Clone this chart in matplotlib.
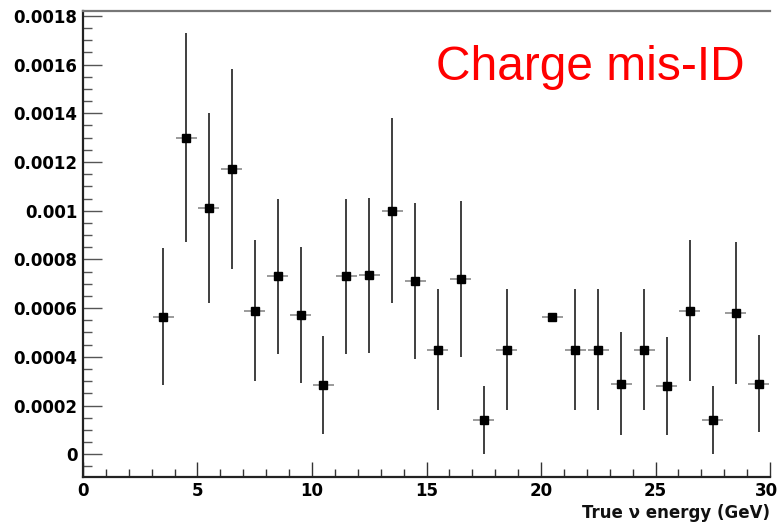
import numpy as np
import matplotlib.pyplot as plt
import matplotlib.transforms as mtransforms
from matplotlib.ticker import MultipleLocator, FuncFormatter

# charge mis-identification rate per 1 GeV bin of true neutrino energy
energy = [3.5, 4.5, 5.5, 6.5, 7.5, 8.5, 9.5, 10.5, 11.5, 12.5, 13.5, 14.5, 15.5,
          16.5, 17.5, 18.5, 20.5, 21.5, 22.5, 23.5, 24.5, 25.5, 26.5, 27.5, 28.5, 29.5]
misid = [0.000565, 0.00130, 0.00101, 0.00117, 0.00059, 0.00073, 0.000572, 0.000285,
         0.00073, 0.000734, 0.00100, 0.00071, 0.00043, 0.00072, 0.00014, 0.00043,
         0.000565, 0.00043, 0.00043, 0.00029, 0.00043, 0.00028, 0.00059, 0.00014,
         0.00058, 0.00029]
misid_err = [0.00028, 0.00043, 0.00039, 0.00041, 0.00029, 0.00032, 0.00028, 0.00020,
             0.00032, 0.00032, 0.00038, 0.00032, 0.00025, 0.00032, 0.00014, 0.00025,
             0.0, 0.00025, 0.00025, 0.00021, 0.00025, 0.00020, 0.00029, 0.00014,
             0.00029, 0.00020]
bin_half = 0.46
x_max = 30

plt.rcParams['font.family'] = 'DejaVu Sans'
plt.rcParams['font.weight'] = 'bold'
plt.rcParams['font.size'] = 12

fig = plt.figure(figsize=(7.8, 5.28), dpi=100)
ax = fig.add_axes([0.1064, 0.0972, 0.8808, 0.882])

# horizontal bin bars, vertical errors, then the square markers on top
ax.errorbar(energy, misid, xerr=bin_half, fmt='none', ecolor='#8a8a8a', elinewidth=1.2, capsize=0)
ax.errorbar(energy, misid, yerr=misid_err, fmt='none', ecolor='#303030', elinewidth=1.3, capsize=0)
ax.plot(energy, misid, 's', color='black', markersize=6)

ax.set_xlim(0, x_max)
ax.set_ylim(-0.000092, 0.00182)

ax.xaxis.set_major_locator(MultipleLocator(5))
ax.xaxis.set_minor_locator(MultipleLocator(1))
ax.yaxis.set_major_locator(MultipleLocator(0.0002))
ax.yaxis.set_minor_locator(MultipleLocator(0.00005))
ax.yaxis.set_major_formatter(FuncFormatter(lambda v, p: '0' if abs(v) < 1e-12 else f'{v:g}'))
# the last x label is drawn separately so it stays inside the figure
ax.xaxis.set_major_formatter(FuncFormatter(lambda v, p: '' if v >= x_max - 1e-9 else f'{v:g}'))

ax.tick_params(axis='x', which='major', direction='in', length=11, width=1.0, color='#333333', pad=4)
ax.tick_params(axis='x', which='minor', direction='in', length=6, width=1.0, color='#333333')
ax.tick_params(axis='y', which='major', direction='in', length=14, width=1.0, color='#555555', pad=4)
ax.tick_params(axis='y', which='minor', direction='in', length=6.5, width=1.0, color='#555555')
ax.tick_params(top=False, right=False, which='both')

edge = mtransforms.blended_transform_factory(ax.transData, ax.transAxes)
edge = edge + mtransforms.ScaledTranslation(8 / 100, -5.5 / 100, fig.dpi_scale_trans)
ax.text(x_max, 0, f'{x_max:g}', transform=edge, ha='right', va='top', clip_on=False)

ax.spines['right'].set_visible(False)
ax.spines['top'].set_color('#777777')
ax.spines['top'].set_linewidth(1.6)
ax.spines['left'].set_linewidth(1.6)
ax.spines['bottom'].set_linewidth(1.6)
ax.spines['left'].set_color('#222222')
ax.spines['bottom'].set_color('#222222')

fig.text(770 / 780, 1 - 518 / 528, 'True ν energy (GeV)', ha='right', va='baseline',
         fontsize=12, color='#111111')
fig.text(436 / 780, 1 - 80 / 528, 'Charge mis-ID', ha='left', va='baseline',
         fontsize=34.5, fontweight='normal', family='Liberation Sans', color='#ff0000')

fig.savefig('out.png', dpi=100)
